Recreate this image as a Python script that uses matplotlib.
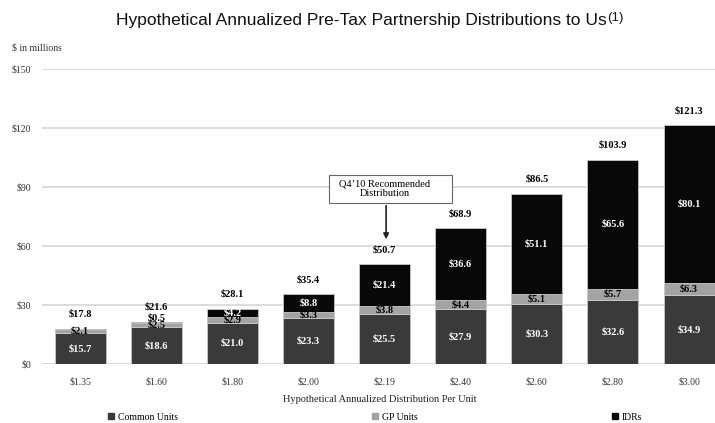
import matplotlib
matplotlib.use('Agg')
from matplotlib import pyplot as plt
from matplotlib.patches import Patch, Rectangle

dist_labels = ['$1.35', '$1.60', '$1.80', '$2.00', '$2.19', '$2.40', '$2.60', '$2.80', '$3.00']
common_units = [15.7, 18.6, 21.0, 23.3, 25.5, 27.9, 30.3, 32.6, 34.9]
gp_units = [2.1, 2.5, 2.9, 3.3, 3.8, 4.4, 5.1, 5.7, 6.3]
idrs = [0.0, 0.5, 4.2, 8.8, 21.4, 36.6, 51.1, 65.6, 80.1]
totals = [17.8, 21.6, 28.1, 35.4, 50.7, 68.9, 86.5, 103.9, 121.3]
y_ticks = [0, 30, 60, 90, 120, 150]

c_common = '#3a3a3a'
c_gp = '#a3a3a3'
c_idr = '#080808'
serif = ['Liberation Serif', 'DejaVu Serif']

fig = plt.figure(figsize=(7.15, 4.23), dpi=100)
ax = fig.add_axes([42 / 715, 1 - 364 / 423, 1 - 42 / 715, (364 - 69) / 423])

x = list(range(len(dist_labels)))
w = 0.67
gp_bottom = common_units
idr_bottom = [a + b for a, b in zip(common_units, gp_units)]

ax.bar(x, common_units, width=w, color=c_common, edgecolor='#c8c8c8', linewidth=0.6, zorder=3)
ax.bar(x, gp_units, width=w, bottom=gp_bottom, color=c_gp, edgecolor='#c8c8c8', linewidth=0.6, zorder=3)
ax.bar([i for i in x if idrs[i] > 0], [v for v in idrs if v > 0], width=w,
       bottom=[idr_bottom[i] for i in x if idrs[i] > 0],
       color=c_idr, edgecolor='#c8c8c8', linewidth=0.6, zorder=3)

lab = dict(ha='center', va='center', fontsize=7.5, fontweight='bold', family=serif, zorder=5)
for i in x:
    ax.text(i, common_units[i] / 2, '$%.1f' % common_units[i], color='white', **lab)
    ax.text(i, gp_bottom[i] + gp_units[i] / 2, '$%.1f' % gp_units[i], color='black', **lab)
    if idrs[i] > 0:
        if idrs[i] < 2:
            ax.text(i, idr_bottom[i] + 2.5, '$%.1f' % idrs[i], color='black', **lab)
        else:
            ax.text(i, idr_bottom[i] + idrs[i] / 2, '$%.1f' % idrs[i], color='white', **lab)
    ax.text(i, totals[i] + 7.5, '$%.1f' % totals[i], color='black', **lab)

ax.set_xlim(-0.5, 8.34)
ax.set_ylim(0, 150)
ax.set_yticks(y_ticks)
ax.set_yticklabels(['$%d' % v for v in y_ticks], family=serif, fontsize=7, color='#333333')
ax.set_xticks(x)
ax.set_xticklabels(dist_labels, family=serif, fontsize=7, color='#333333')
ax.tick_params(axis='x', length=0, pad=10)
ax.tick_params(axis='y', length=0, pad=8)
ax.grid(axis='y', color='#d9d9d9', linewidth=1.3, zorder=0)
ax.set_axisbelow(True)
for s in ax.spines.values():
    s.set_visible(False)

# annotation box and arrow
ax.add_patch(Rectangle((3.27, 81.9), 1.61, 14.2, facecolor='white', edgecolor='#666666',
                       linewidth=0.8, zorder=6))
ax.text(4.0, 89, 'Q4\u201910 Recommended\nDistribution', ha='center', va='center',
        fontsize=7.5, family=serif, linespacing=1.1, zorder=7)
ax.annotate('', xy=(4.02, 62), xytext=(4.02, 81.9),
            arrowprops=dict(arrowstyle='-|>', color='#222222', lw=1.2, mutation_scale=8), zorder=6)

fig.text(12 / 715, 1 - 48 / 423, '$ in millions', family=serif, fontsize=7, va='center', color='#333333')
fig.text(380 / 715, 1 - 399 / 423, 'Hypothetical Annualized Distribution Per Unit',
         family=serif, fontsize=7.5, ha='center', va='center', color='#222222')

title_font = ['Liberation Sans', 'DejaVu Sans']
fig.text(607 / 715, 1 - 20 / 423, 'Hypothetical Annualized Pre-Tax Partnership Distributions to Us',
         family=title_font, fontsize=12.5, ha='right', va='center', color='#111111')
fig.text(607 / 715, 1 - 18 / 423, '(1)', family=title_font, fontsize=9.5, ha='left', va='center',
         color='#111111')

handles = [Patch(color=c_common), Patch(color=c_gp), Patch(color=c_idr)]
fig.legend(handles, ['Common Units', 'GP Units', 'IDRs'], loc='center left',
           bbox_to_anchor=(108 / 715, 1 - 417 / 423), ncol=3, frameon=False,
           prop={'family': serif, 'size': 7}, handlelength=0.6, handleheight=0.6,
           handletextpad=0.4, columnspacing=20, borderaxespad=0, borderpad=0)

plt.savefig('out.png', dpi=100)
